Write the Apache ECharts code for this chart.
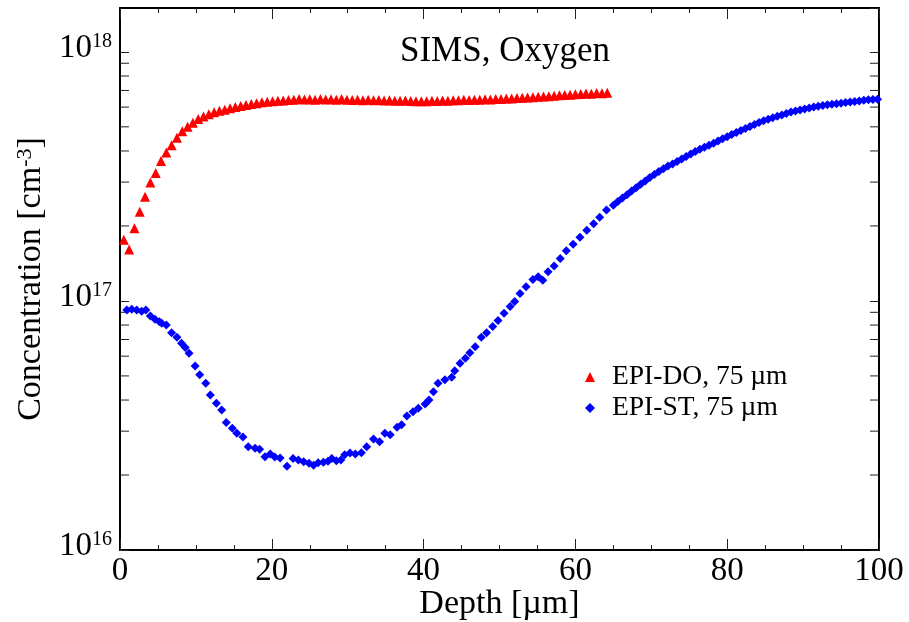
<!DOCTYPE html>
<html>
<head>
<meta charset="utf-8">
<script src="https://cdn.jsdelivr.net/npm/echarts@6/dist/echarts.min.js"></script>
<style>html,body{margin:0;padding:0;background:#fff;}#c{width:909px;height:622px;}</style>
</head>
<body>
<div id="c"></div>
<script>
// EPI-DO, 75 µm (red triangles): depth [µm], concentration [cm^-3]
var depthDO = [0.5,1.2,1.9,2.6,3.3,4.0,4.7,5.4,6.1,6.8,7.5,8.2,8.9,9.6,10.3,11.0,11.7,12.4,13.1,13.8,
  14.5,15.2,15.9,16.6,17.3,18.0,18.7,19.4,20.1,20.8,21.5,22.2,22.9,23.6,24.3,25.0,25.7,26.4,27.1,27.8,
  28.5,29.2,29.9,30.6,31.3,32.0,32.7,33.4,34.1,34.8,35.5,36.2,36.9,37.6,38.3,39.0,39.7,40.4,41.1,41.8,
  42.5,43.2,43.9,44.6,45.3,46.0,46.7,47.4,48.1,48.8,49.5,50.2,50.9,51.6,52.3,53.0,53.7,54.4,55.1,55.8,
  56.5,57.2,57.9,58.6,59.3,60.0,60.7,61.4,62.1,62.8,63.5,64.2];
var concDO = [1.76e17,1.61e17,1.96e17,2.28e17,2.62e17,2.99e17,3.26e17,3.65e17,3.94e17,4.22e17,4.52e17,4.80e17,5.00e17,5.19e17,5.38e17,5.50e17,5.62e17,5.72e17,5.80e17,5.86e17,
  5.94e17,6.00e17,6.06e17,6.12e17,6.18e17,6.22e17,6.27e17,6.30e17,6.33e17,6.36e17,6.38e17,6.41e17,6.43e17,6.46e17,6.44e17,6.45e17,6.43e17,6.46e17,6.44e17,6.45e17,
  6.43e17,6.46e17,6.42e17,6.41e17,6.43e17,6.40e17,6.42e17,6.39e17,6.41e17,6.38e17,6.40e17,6.37e17,6.36e17,6.38e17,6.35e17,6.34e17,6.33e17,6.34e17,6.36e17,6.35e17,
  6.38e17,6.37e17,6.40e17,6.39e17,6.42e17,6.41e17,6.43e17,6.42e17,6.45e17,6.44e17,6.47e17,6.46e17,6.49e17,6.50e17,6.52e17,6.54e17,6.56e17,6.57e17,6.60e17,6.62e17,
  6.64e17,6.66e17,6.69e17,6.71e17,6.73e17,6.76e17,6.78e17,6.80e17,6.79e17,6.83e17,6.82e17,6.85e17];

// EPI-ST, 75 µm (blue diamonds)
var depthST = [0.9,1.55,2.2,2.85,3.4,4.0,4.6,5.2,5.5,6.1,6.8,7.5,8.1,8.6,9.1,9.9,10.5,11.3,11.9,12.7,
  13.4,14.0,14.8,15.4,16.2,16.9,17.8,18.4,19.1,19.8,20.4,21.1,22.0,22.8,23.5,24.2,24.9,25.5,26.1,26.8,
  27.4,27.9,28.5,29.1,29.6,30.3,31.0,31.8,32.5,33.4,34.2,34.9,35.6,36.5,37.1,37.8,38.6,39.3,40.2,40.7,
  41.3,41.9,42.8,43.7,44.1,44.8,45.5,46.1,46.8,47.6,48.3,49.1,49.8,50.6,51.4,52.0,52.7,53.5,54.4,55.1,
  55.7,56.4,57.2,58.0,58.8,59.7,60.6,61.5,62.4,63.2,64.1,65.0,65.6,66.2,66.8,67.4,68.0,68.6,69.2,69.8,
  70.4,71.0,71.6,72.2,72.8,73.4,74.0,74.6,75.2,75.8,76.4,77.0,77.6,78.2,78.8,79.4,80.0,80.6,81.2,81.8,
  82.4,83.0,83.6,84.2,84.8,85.4,86.0,86.6,87.2,87.8,88.4,89.0,89.6,90.2,90.8,91.4,92.0,92.6,93.2,93.8,
  94.4,95.0,95.6,96.2,96.8,97.4,98.0,98.6,99.2,99.8];
var concST = [9.2e16,9.25e16,9.2e16,9.1e16,9.2e16,8.7e16,8.45e16,8.25e16,8.13e16,8.0e16,7.46e16,7.15e16,6.76e16,6.5e16,6.16e16,5.48e16,5.05e16,4.67e16,4.19e16,3.88e16,
  3.65e16,3.25e16,3.08e16,2.94e16,2.84e16,2.60e16,2.56e16,2.54e16,2.37e16,2.43e16,2.36e16,2.34e16,2.17e16,2.33e16,2.30e16,2.26e16,2.23e16,2.19e16,2.24e16,2.25e16,
  2.27e16,2.33e16,2.28e16,2.30e16,2.41e16,2.45e16,2.43e16,2.46e16,2.60e16,2.79e16,2.72e16,2.94e16,2.90e16,3.11e16,3.18e16,3.45e16,3.59e16,3.71e16,3.86e16,4.00e16,
  4.32e16,4.67e16,4.82e16,4.94e16,5.25e16,5.62e16,5.89e16,6.20e16,6.55e16,7.15e16,7.46e16,7.89e16,8.34e16,8.92e16,9.49e16,9.94e16,1.07e17,1.14e17,1.22e17,1.25e17,
  1.21e17,1.31e17,1.38e17,1.48e17,1.59e17,1.69e17,1.80e17,1.92e17,2.04e17,2.17e17,2.32e17,2.42e17,2.51e17,2.59e17,2.67e17,2.76e17,2.85e17,2.94e17,3.03e17,3.13e17,
  3.22e17,3.31e17,3.39e17,3.48e17,3.55e17,3.63e17,3.71e17,3.80e17,3.89e17,3.98e17,4.06e17,4.14e17,4.22e17,4.30e17,4.39e17,4.48e17,4.56e17,4.66e17,4.74e17,4.83e17,
  4.92e17,5.02e17,5.11e17,5.20e17,5.29e17,5.36e17,5.44e17,5.51e17,5.58e17,5.66e17,5.73e17,5.79e17,5.84e17,5.89e17,5.95e17,6.00e17,6.05e17,6.09e17,6.13e17,6.16e17,
  6.19e17,6.22e17,6.26e17,6.29e17,6.32e17,6.35e17,6.39e17,6.42e17,6.44e17,6.45e17];

var seriesNames = ['EPI-DO, 75 µm', 'EPI-ST, 75 µm'];
var xTicks = [0, 20, 40, 60, 80, 100];
var yMajorExponents = [16, 17, 18];
var yMinorTicks = [2e16,3e16,4e16,5e16,6e16,7e16,8e16,9e16,2e17,3e17,4e17,5e17,6e17,7e17,8e17,9e17];

var FONT = 'Liberation Serif';
var chart = echarts.init(document.getElementById('c'), null, {renderer: 'canvas'});

function zip(a, b) { return a.map(function (v, i) { return [v, b[i]]; }); }

var xCommon = {
  type: 'value', min: xTicks[0], max: xTicks[xTicks.length - 1], interval: xTicks[1] - xTicks[0],
  axisLine: {show: true, onZero: false, lineStyle: {color: '#000', width: 2}},
  axisTick: {show: true, inside: true, length: 11, lineStyle: {color: '#222', width: 1}},
  minorTick: {show: true, splitNumber: 4, length: 5, lineStyle: {color: '#222', width: 1}},
  splitLine: {show: false}, minorSplitLine: {show: false}
};
var yCommon = {
  type: 'log', logBase: 10, min: 1e16, max: 1.5e18,
  axisLine: {show: true, onZero: false, lineStyle: {color: '#000', width: 2}},
  axisTick: {show: true, inside: true, length: 9, lineStyle: {color: '#222', width: 1}},
  splitLine: {show: false}
};

var option = {
  animation: false,
  backgroundColor: '#fff',
  title: {
    text: 'SIMS, Oxygen', left: 400, top: 34, padding: 0,
    textStyle: {fontFamily: FONT, fontSize: 35, fontWeight: 'normal', color: '#000'}
  },
  legend: {
    data: seriesNames, orient: 'vertical', left: 585, top: 363, padding: 0,
    itemWidth: 10, itemHeight: 10, itemGap: 3,
    textStyle: {fontFamily: FONT, fontSize: 27.5, color: '#000', padding: [0, 0, 0, 12]}
  },
  grid: {left: 120, right: 30, top: 8, bottom: 72, outerBoundsMode: 'none', containLabel: false},
  xAxis: [
    Object.assign({}, xCommon, {
      position: 'bottom', name: 'Depth [µm]', nameLocation: 'middle', nameGap: 37, nameMoveOverlap: false,
      nameTextStyle: {fontFamily: FONT, fontSize: 34, color: '#000'},
      axisLabel: {fontFamily: FONT, fontSize: 33, color: '#000', margin: 5}
    }),
    Object.assign({}, xCommon, {position: 'top', axisLabel: {show: false}})
  ],
  yAxis: [
    Object.assign({}, yCommon, {
      position: 'left', name: '{a|Concentration [cm}{s|-3}{a|]}', nameLocation: 'middle', nameGap: 72, nameMoveOverlap: false,
      nameTextStyle: {rich: {
        a: {fontFamily: FONT, fontSize: 34, color: '#000'},
        s: {fontFamily: FONT, fontSize: 22, color: '#000', verticalAlign: 'top'}
      }},
      axisLabel: {
        margin: 8, showMaxLabel: false, padding: [0, 0, 8, 0],
        formatter: function (v) {
          var e = Math.log10(v), r = Math.round(e);
          if (Math.abs(e - r) > 1e-6 || yMajorExponents.indexOf(r) < 0) return '';
          return '{b|10}{s|' + r + '}';
        },
        rich: {
          b: {fontFamily: FONT, fontSize: 33, color: '#000'},
          s: {fontFamily: FONT, fontSize: 20, color: '#000', verticalAlign: 'top'}
        }
      }
    }),
    Object.assign({}, yCommon, {position: 'right', axisLabel: {show: false}})
  ],
  series: [
    {
      name: seriesNames[0], type: 'scatter', xAxisIndex: 0, yAxisIndex: 0,
      symbol: 'triangle', symbolSize: 10, itemStyle: {color: '#ff0000', opacity: 1},
      data: zip(depthDO, concDO), z: 3
    },
    {
      name: seriesNames[1], type: 'scatter', xAxisIndex: 0, yAxisIndex: 0,
      symbol: 'diamond', symbolSize: 9, itemStyle: {color: '#0000ff', opacity: 1},
      data: zip(depthST, concST), z: 2
    },
    {
      name: 'minorTicks', type: 'custom', xAxisIndex: 0, yAxisIndex: 0, silent: true, clip: false,
      data: yMinorTicks.map(function (v) { return [xTicks[0], v]; }),
      renderItem: function (params, api) {
        var v = api.value(1);
        var pL = api.coord([xTicks[0], v]);
        var pR = api.coord([xTicks[xTicks.length - 1], v]);
        var st = {stroke: '#222', lineWidth: 1};
        return {type: 'group', children: [
          {type: 'line', shape: {x1: pL[0], y1: pL[1], x2: pL[0] + 9, y2: pL[1]}, style: st},
          {type: 'line', shape: {x1: pR[0] - 9, y1: pR[1], x2: pR[0], y2: pR[1]}, style: st}
        ]};
      }
    }
  ]
};
chart.setOption(option);
</script>
</body>
</html>
